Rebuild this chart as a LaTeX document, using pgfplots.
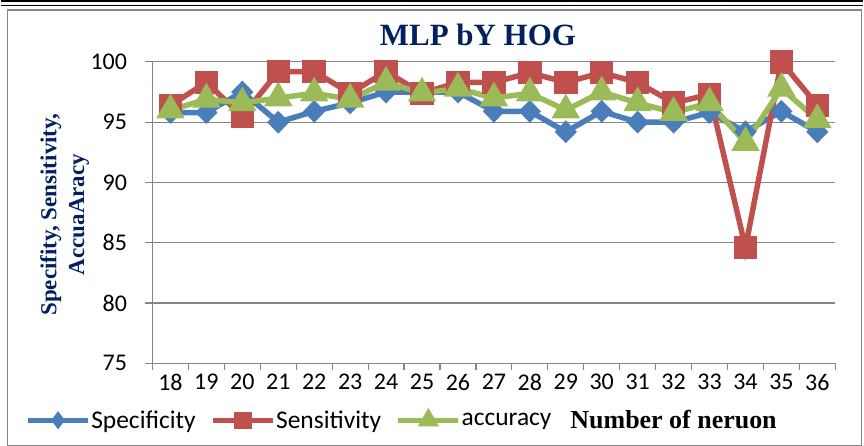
\documentclass[border=0pt]{standalone}
\usepackage{pgfplots}
\pgfplotsset{compat=1.18}
\usepackage{fontspec}
\setmainfont{Carlito}
\newfontfamily\tnr{Liberation Serif}
\definecolor{sblue}{RGB}{74,126,187}
\definecolor{sred}{RGB}{192,80,77}
\definecolor{sgreen}{RGB}{155,187,89}
\definecolor{navy}{RGB}{0,32,96}
\definecolor{gridc}{RGB}{134,134,134}

\pgfplotstableread{
x spec sens acc
18 95.8 96.4 96.0
19 95.8 98.3 96.9
20 97.5 95.5 96.6
21 95.0 99.2 97.0
22 95.9 99.2 97.4
23 96.6 97.4 96.9
24 97.5 99.2 98.3
25 97.5 97.4 97.4
26 97.5 98.3 97.8
27 95.9 98.3 97.0
28 95.9 99.1 97.4
29 94.2 98.3 96.0
30 95.9 99.1 97.5
31 95.0 98.3 96.6
32 95.0 96.6 95.8
33 95.8 97.3 96.6
34 94.2 84.6 93.3
35 95.9 100.0 97.8
36 94.2 96.4 95.2
}\datatable

\begin{document}
\begin{tikzpicture}[x=1pt,y=1pt]
\path (0,0) rectangle (864,441);
\draw[gridc, line width=1.2pt] (7,-5) rectangle (862,431);
\draw[black,line width=1.5pt] (0,440) -- (864,440);
\draw[black,line width=1.5pt] (0,435.5) -- (864,435.5);
\foreach \xx in {408,570,727} {\draw[white,line width=2pt] (\xx,435.5)--(\xx,438.5);}
\begin{axis}[
  at={(152pt,77pt)}, anchor=south west,
  width=684pt, height=302pt, scale only axis,
  xmin=17.5, xmax=36.5, ymin=75, ymax=100,
  xtick={18,...,36}, ytick={75,80,...,100},
  minor xtick={17.5,18.5,...,36.5},
  major x tick style={draw=none},
  minor x tick style={gridc, line width=1.2pt},
  major y tick style={gridc, line width=1.2pt},
  tick align=outside, tick pos=left,
  major tick length=7pt, minor tick length=7pt,
  axis line style={gridc, line width=1.2pt},
  axis x line*=bottom, axis y line*=left,
  ymajorgrids, grid style={gridc, line width=1.2pt},
  /pgf/number format/assume math mode=true,
  tick label style={font=\fontsize{24}{24}\selectfont, black},
  yticklabel style={xshift=-15pt},
  clip=false,
  legend columns=3,
  legend style={at={(-0.1857,-0.1887)}, anchor=west, draw=none, fill=none,
    inner sep=0pt, font=\fontsize{25.5}{26}\selectfont,
    nodes={inner sep=1pt},
    /tikz/every even column/.append style={column sep=14pt}},
  legend image code/.code={\draw[line width=4.5pt, mark repeat=2,mark phase=2, mark options={scale=0.72}] plot coordinates {(0pt,0pt) (30pt,0pt) (60pt,0pt)};},
]
\addplot[sblue, line width=5.5pt, mark=diamond*, mark size=7.5pt, mark options={xscale=1.3, solid}] table[x=x,y=spec]{\datatable};
\addlegendentry{Specificity}
\addplot[sred, line width=5.5pt, mark=square*, mark size=9pt, mark options={solid}] table[x=x,y=sens]{\datatable};
\addlegendentry{Sensitivity}
\addplot[sgreen, line width=5.5pt, mark=triangle*, mark size=11pt, mark options={solid}] table[x=x,y=acc]{\datatable};
\addlegendentry{accuracy}
\end{axis}
\node[font=\tnr\bfseries\fontsize{31}{31}\selectfont, text=navy] at (478,406) {MLP bY HOG};
\node[font=\tnr\bfseries\fontsize{23}{28}\selectfont, text=navy, rotate=90, align=center] at (64,226) {Specifity, Sensitivity,\\AccuaAracy};
\node[font=\tnr\bfseries\fontsize{26}{26}\selectfont] at (674,21) {Number of neruon};
\end{tikzpicture}
\end{document}
